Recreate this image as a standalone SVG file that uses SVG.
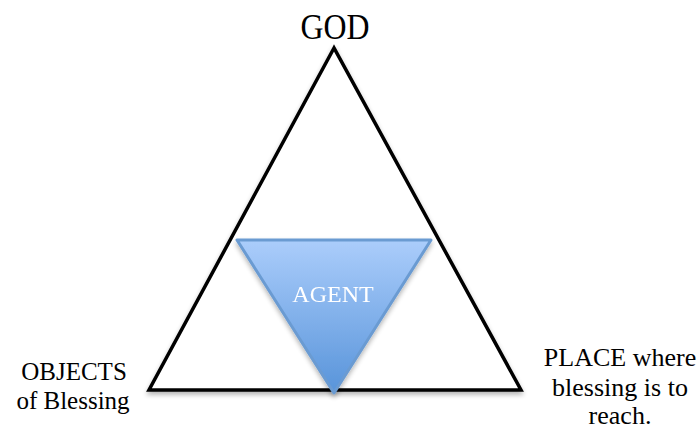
<svg xmlns="http://www.w3.org/2000/svg" width="698" height="430" viewBox="0 0 698 430">
<style>
.lbl{font-family:"Liberation Serif","DejaVu Serif",serif;fill:#000;text-anchor:middle}
</style>
<defs>
<linearGradient id="ag" x1="0" y1="0" x2="0" y2="1">
<stop offset="0" stop-color="#abcdfb"/>
<stop offset="1" stop-color="#5894da"/>
</linearGradient>
<filter id="sh" x="-10%" y="-10%" width="120%" height="130%">
<feGaussianBlur in="SourceAlpha" stdDeviation="2.5"/>
<feOffset dx="0" dy="3"/>
<feComponentTransfer><feFuncA type="linear" slope="0.3"/></feComponentTransfer>
<feMerge><feMergeNode/><feMergeNode in="SourceGraphic"/></feMerge>
</filter>
</defs>
<rect width="698" height="430" fill="#fff"/>
<g id="god-triangle" filter="url(#sh)">
<polygon points="334,48 149,390 521,390" fill="#fff" stroke="#000" stroke-width="3.5" stroke-linejoin="miter"/>
</g>
<g id="agent" filter="url(#sh)">
<polygon points="237,240 431,240 334,393" fill="url(#ag)" stroke="#6b9bd2" stroke-width="3" stroke-linejoin="round"/>
<text x="333" y="302" class="lbl" style="fill:#fff;font-size:24px">AGENT</text>
</g>
<g id="god"><text x="335" y="39" class="lbl" style="font-size:35px" textLength="69" lengthAdjust="spacingAndGlyphs">GOD</text></g>
<g id="objects"><text class="lbl" style="font-size:25px"><tspan x="74" y="380">OBJECTS</tspan><tspan x="73" y="409">of Blessing</tspan></text></g>
<g id="place"><text class="lbl" style="font-size:26px"><tspan x="620" y="366">PLACE where</tspan><tspan x="620" y="396">blessing is to</tspan><tspan x="620" y="424">reach.</tspan></text></g>
<g id="connectors"></g>
</svg>
